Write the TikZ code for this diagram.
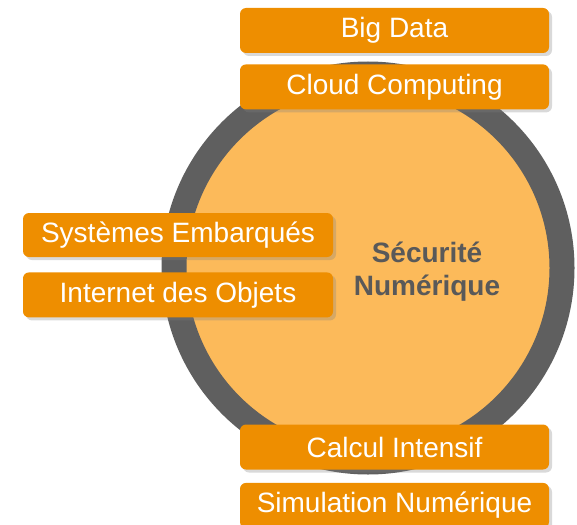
\documentclass[tikz,border=0pt]{standalone}
\usepackage{fontspec}
\setmainfont{Liberation Sans}
\usetikzlibrary{positioning,shadows}
\definecolor{darkring}{HTML}{5F5F5F}
\definecolor{core}{HTML}{FCBA5A}
\definecolor{tangerine}{HTML}{EE8E00}
\definecolor{slate}{HTML}{595959}
\tikzset{
  topic/.style={rectangle,rounded corners=6pt,fill=tangerine,text=white,minimum width=309pt,minimum height=45pt,inner sep=0pt,font=\fontsize{28}{33}\selectfont,drop shadow={shadow xshift=3pt,shadow yshift=-3pt,opacity=0.3}},
  hub/.style={circle,fill=core,draw=darkring,line width=25pt,minimum size=388pt,inner sep=0pt},
  hubtext/.style={align=center,text=slate,font=\fontsize{28}{33}\selectfont\bfseries}
}
\begin{document}
\begin{tikzpicture}[x=1pt,y=-1pt,node distance=11pt]
  \useasboundingbox (0,0) rectangle (577,524);
  \node[hub] (core) at (368,268) {};
  \node[hubtext] (secu) at (427,272) {Sécurité\\Numérique};

  \node[topic] (bigdata) at (394.5,30.5) {Big Data};
  \node[topic,below=of bigdata] (cloud) {Cloud Computing};
  \node[topic,minimum width=310pt,minimum height=44pt] (embedded) at (178,235) {Systèmes Embarqués};
  \node[topic,below=15pt of embedded,minimum width=310pt] (iot) {Internet des Objets};
  \node[topic] (hpc) at (394.5,447) {Calcul Intensif};
  \node[topic,below=13pt of hpc] (simu) {Simulation Numérique};
\end{tikzpicture}
\end{document}
